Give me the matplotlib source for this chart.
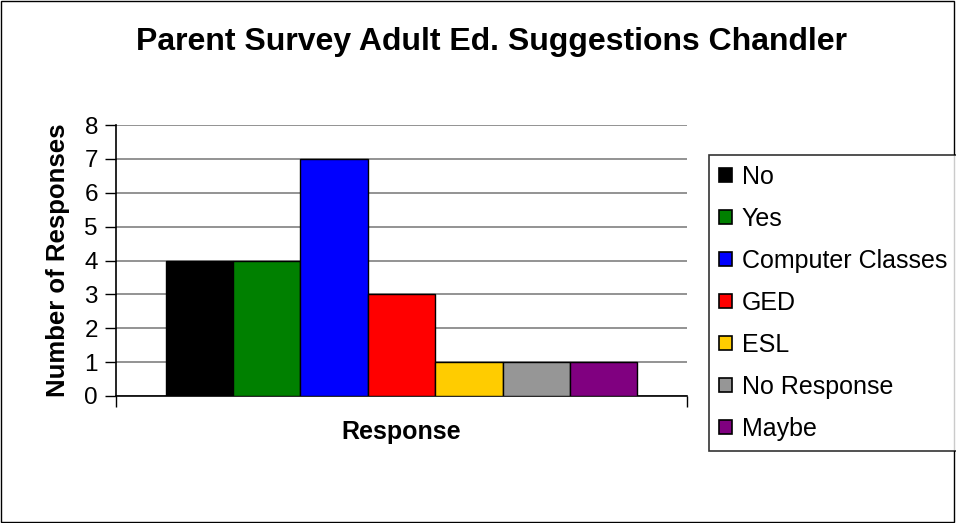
import numpy as np
import matplotlib
matplotlib.use("Agg")
import matplotlib.pyplot as plt
from matplotlib.patches import Patch, Rectangle

# chart data
categories = ["No", "Yes", "Computer Classes", "GED", "ESL", "No Response", "Maybe"]
responses = [4, 4, 7, 3, 1, 1, 1]
colors = ["#000000", "#008000", "#0000FF", "#FF0000", "#FFCC00", "#969696", "#800080"]
y_ticks = [0, 1, 2, 3, 4, 5, 6, 7, 8]

plt.rcParams['font.family'] = ['Liberation Sans', 'DejaVu Sans']

fig = plt.figure(figsize=(9.56, 5.23), dpi=100)
W, H = 956, 523

# plot area placed in pixel terms (Excel style layout)
ax = fig.add_axes([116 / W, 1 - 396 / H, 571 / W, 271 / H])

x = np.arange(len(categories))
ax.bar(x, responses, width=1.0, color=colors, edgecolor="black", linewidth=1.0, zorder=3)

margin = 0.74
ax.set_xlim(-0.5 - margin, len(categories) - 0.5 + margin)
ax.set_ylim(0, 8)
ax.set_yticks(y_ticks)
ax.yaxis.grid(True, color="#808080", linewidth=1.2, zorder=0)
ax.tick_params(axis="y", direction="out", length=8, width=1, labelsize=17.5, pad=5)

# x axis: only the two boundary ticks pointing down, no labels
ax.set_xticks([-0.5 - margin, len(categories) - 0.5 + margin])
ax.set_xticklabels([])
ax.tick_params(axis="x", direction="out", length=8, width=1)

for side in ["top", "right"]:
    ax.spines[side].set_visible(False)
ax.spines["left"].set_linewidth(1.2)
ax.spines["bottom"].set_linewidth(1.2)

ax.set_ylabel("Number of Responses", fontsize=18.5, fontweight="bold", labelpad=10)
ax.set_xlabel("Response", fontsize=18, fontweight="bold", labelpad=6)

fig.text(492 / W, 1 - 42 / H, "Parent Survey Adult Ed. Suggestions Chandler",
         fontsize=23, fontweight="bold", ha="center", va="center")

# legend
handles = [Patch(facecolor=c, edgecolor="black", linewidth=1.2) for c in colors]
leg = fig.legend(handles, categories, loc="upper left",
                 bbox_to_anchor=(709 / W, 1 - 155 / H), fontsize=18,
                 frameon=True, fancybox=False, edgecolor="black",
                 handlelength=0.5, handleheight=0.5, handletextpad=0.4,
                 labelspacing=0.72, borderpad=0.4, borderaxespad=0)
leg.get_frame().set_linewidth(1.2)

# outer chart border
fig.patches.append(Rectangle((0.001, 0.002), 0.997, 0.996, transform=fig.transFigure,
                             fill=False, edgecolor="black", linewidth=1.0))

fig.savefig("out.png", dpi=100)
